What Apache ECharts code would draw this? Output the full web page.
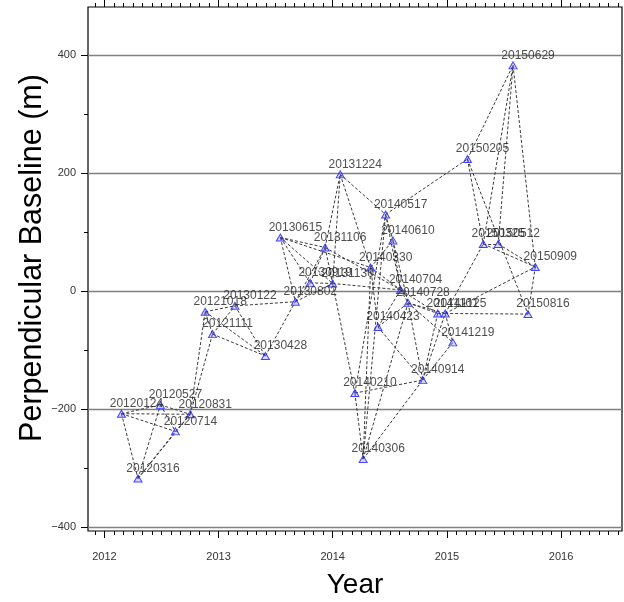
<!DOCTYPE html>
<html>
<head>
<meta charset="utf-8">
<script src="https://cdn.jsdelivr.net/npm/echarts@6/dist/echarts.min.js"></script>
<style>
  html, body { margin: 0; padding: 0; background: #fff; }
  #chart { width: 624px; height: 602px; }
</style>
</head>
<body>
<div id="chart"></div>
<script>
// acquisition dates and perpendicular baselines (m)
const dates = [
  "20120124", "20120316", "20120527", "20120714", "20120831", "20121018",
  "20121111", "20130122", "20130428", "20130615", "20130802", "20130919",
  "20131106", "20131130", "20131224", "20140210", "20140306", "20140330",
  "20140423", "20140517", "20140610", "20140704", "20140728", "20140914",
  "20141101", "20141125", "20141219", "20150205", "20150325", "20150512",
  "20150629", "20150816", "20150909"
];
const baselines = [
  -208, -318, -193, -238, -209, -35,
  -73, -25, -110, 91, -18, 14,
  74, 13, 198, -173, -285, 40,
  -61, 130, 86, 2, -20, -151,
  -38, -38, -87, 224, 80, 80,
  383, -39, 41
];

// interferogram pairs (dashed links)
const pairs = [
  ["20120124", "20120316"], ["20120124", "20120527"], ["20120124", "20120714"],
  ["20120124", "20120831"], ["20120316", "20120527"], ["20120316", "20120714"],
  ["20120316", "20120831"], ["20120527", "20120714"], ["20120527", "20120831"],
  ["20120714", "20120831"], ["20120831", "20121018"], ["20120831", "20121111"],
  ["20121018", "20121111"], ["20121018", "20130122"], ["20121018", "20130428"],
  ["20121111", "20130122"], ["20121111", "20130428"], ["20130122", "20130428"],
  ["20130122", "20130802"], ["20130428", "20130802"], ["20130615", "20130802"],
  ["20130615", "20130919"], ["20130615", "20131130"], ["20130615", "20131106"],
  ["20130615", "20140330"], ["20130802", "20130919"], ["20130802", "20131130"],
  ["20130802", "20131106"], ["20130919", "20131130"], ["20130919", "20131106"],
  ["20131106", "20131130"], ["20131106", "20131224"], ["20131130", "20131224"],
  ["20131224", "20140330"], ["20131224", "20140517"], ["20131106", "20140704"],
  ["20131130", "20140210"], ["20131130", "20140704"], ["20140210", "20140306"],
  ["20140210", "20140517"], ["20140210", "20140914"], ["20140306", "20140330"],
  ["20140306", "20140517"], ["20140306", "20140728"], ["20140306", "20140914"],
  ["20140330", "20140423"], ["20140330", "20140610"], ["20140330", "20140704"],
  ["20140423", "20140704"], ["20140423", "20140728"], ["20140423", "20140914"],
  ["20140517", "20140610"], ["20140517", "20140704"], ["20140517", "20150205"],
  ["20140610", "20140704"], ["20140610", "20140728"], ["20140704", "20140728"],
  ["20140704", "20141101"], ["20140728", "20141101"], ["20140728", "20141125"],
  ["20140728", "20140914"], ["20140728", "20141219"], ["20140914", "20141101"],
  ["20140914", "20141125"], ["20140914", "20141219"], ["20141101", "20141125"],
  ["20141125", "20141219"], ["20141125", "20150325"], ["20141125", "20150816"],
  ["20141125", "20150909"], ["20150205", "20150325"], ["20150205", "20150629"],
  ["20150205", "20150816"], ["20150325", "20150512"], ["20150325", "20150629"],
  ["20150325", "20150909"], ["20150512", "20150629"], ["20150512", "20150909"],
  ["20150629", "20150909"], ["20150816", "20150909"]
];

// axis ticks
const yearTicks = [2012, 2013, 2014, 2015, 2016];
const yMajorTicks = [-400, -200, 0, 200, 400];
const yMinorTicks = [-300, -100, 100, 300];
const X_MIN = 2011.856, X_MAX = 2016.534;
const Y_MIN = -407, Y_MAX = 482;

const monthTicks = [];
for (let y = 2011; y <= 2016; y++) {
  for (let m = 1; m < 12; m++) {
    const v = y + m / 12;
    if (v > X_MIN && v < X_MAX) monthTicks.push(v);
  }
}

// the source plotted dates as year + month/12 + day/365
function toYear(d) {
  return +d.slice(0, 4) + +d.slice(4, 6) / 12 + +d.slice(6, 8) / 365;
}

const pos = {};
dates.forEach((d, i) => { pos[d] = [toYear(d), baselines[i]]; });

const FONT = "'Liberation Sans', Arial, Helvetica, sans-serif";

function xAxisOf(position, ticks, len, withLabel) {
  return {
    type: "value",
    position: position,
    min: X_MIN,
    max: X_MAX,
    axisLine: { show: false, onZero: false },
    axisTick: { show: true, length: len, customValues: ticks,
      lineStyle: { color: "#000", width: 1 } },
    axisLabel: withLabel ? {
      show: true, customValues: ticks, margin: 20,
      fontSize: 11, color: "#333", fontFamily: FONT,
      formatter: (v) => String(Math.round(v))
    } : { show: false },
    splitLine: { show: false }
  };
}

const chart = echarts.init(document.getElementById("chart"));
chart.setOption({
  animation: false,
  backgroundColor: "#fff",
  grid: {
    left: 88, right: 2, top: 7, bottom: 71,
    outerBoundsMode: "none",
    containLabel: false,
    show: true, borderColor: "#000", borderWidth: 1.2
  },
  xAxis: [
    Object.assign(xAxisOf("bottom", yearTicks, 7, true), {
      name: "Year", nameLocation: "middle", nameGap: 40,
      nameMoveOverlap: false,
      nameTextStyle: { fontSize: 28, color: "#000", fontFamily: FONT }
    }),
    xAxisOf("bottom", monthTicks, 4, false),
    xAxisOf("top", yearTicks, 7, false),
    xAxisOf("top", monthTicks, 4, false)
  ],
  yAxis: [
    {
      type: "value",
      position: "left",
      min: Y_MIN,
      max: Y_MAX,
      name: "Perpendicular Baseline (m)",
      nameLocation: "middle",
      nameRotate: 90,
      nameGap: 40,
      nameMoveOverlap: false,
      nameTextStyle: { fontSize: 30.5, color: "#000", fontFamily: FONT,
        padding: [0, 0, 0, 22] },
      axisLine: { show: false, onZero: false },
      axisTick: { show: true, length: 7, customValues: yMajorTicks,
        lineStyle: { color: "#000", width: 1 } },
      axisLabel: {
        show: true, customValues: yMajorTicks, margin: 12,
        fontSize: 11, color: "#333", fontFamily: FONT,
        formatter: (v) => v < 0 ? "\u2212" + Math.abs(v) : String(v)
      },
      splitLine: { show: true, lineStyle: { color: "#808080", width: 1.3 } }
    },
    {
      type: "value",
      position: "left",
      min: Y_MIN,
      max: Y_MAX,
      axisLine: { show: false, onZero: false },
      axisTick: { show: true, length: 4, customValues: yMinorTicks,
        lineStyle: { color: "#000", width: 1 } },
      axisLabel: { show: false },
      splitLine: { show: false }
    }
  ],
  series: [
    {
      type: "lines",
      coordinateSystem: "cartesian2d",
      xAxisIndex: 0,
      yAxisIndex: 0,
      silent: true,
      z: 2,
      lineStyle: { color: "#3a3a3a", width: 1, type: [3, 2], opacity: 1 },
      data: pairs.map(([a, b]) => ({ coords: [pos[a], pos[b]] }))
    },
    {
      type: "scatter",
      xAxisIndex: 0,
      yAxisIndex: 0,
      z: 3,
      symbol: "triangle",
      symbolSize: [8, 7],
      itemStyle: {
        color: "rgba(110,110,255,0.35)",
        borderColor: "#1a1aff",
        borderWidth: 1
      },
      label: {
        show: true,
        position: "inside",
        offset: [15, -10],
        fontSize: 12,
        color: "#222",
        fontFamily: FONT,
        formatter: (p) => dates[p.dataIndex]
      },
      data: dates.map((d) => pos[d])
    }
  ]
});
</script>
</body>
</html>
